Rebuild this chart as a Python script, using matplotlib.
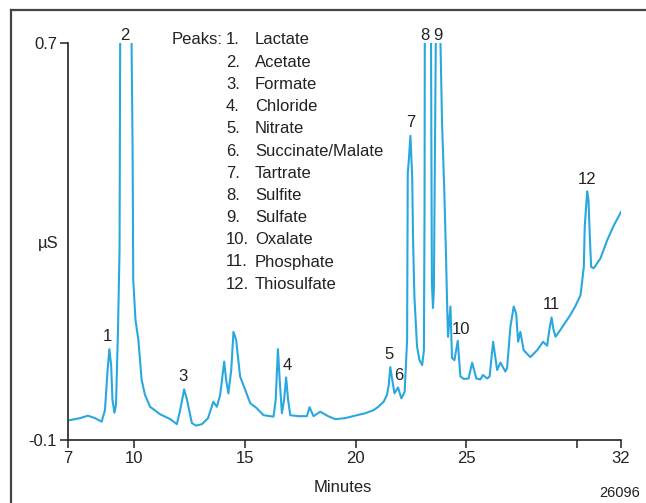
import matplotlib
matplotlib.use("Agg")
import matplotlib.pyplot as plt
from matplotlib.lines import Line2D

plt.rcParams['font.family'] = ['Liberation Sans Narrow', 'Liberation Sans', 'DejaVu Sans']

# chromatogram trace (minutes, uS)
minutes = [7.09, 7.54, 7.90, 8.22, 8.52, 8.67, 8.79, 8.87, 8.95, 9.01, 9.10, 9.17, 9.26, 9.33,
           9.36, 9.58, 9.87, 9.92, 9.95, 10.05, 10.18, 10.33, 10.48, 10.71, 11.16, 11.62,
           11.92, 12.07, 12.25, 12.38, 12.60, 12.79, 13.06, 13.33, 13.57, 13.73, 13.88, 14.06,
           14.15, 14.25, 14.38, 14.48, 14.60, 14.78, 15.01, 15.24, 15.51, 15.84, 16.29, 16.39,
           16.49, 16.57, 16.67, 16.77, 16.86, 16.95, 17.05, 17.41, 17.80, 17.92, 18.10, 18.40,
           18.76, 19.08, 19.53, 20.06, 20.44, 20.81, 21.03, 21.27, 21.42, 21.50, 21.57, 21.66,
           21.76, 21.92, 22.07, 22.22, 22.33, 22.36, 22.41, 22.48, 22.56, 22.60, 22.66, 22.78,
           22.89, 23.01, 23.09, 23.12, 23.13, 23.27, 23.41, 23.45, 23.50, 23.54, 23.63, 23.74,
           23.83, 23.91, 24.01, 24.09, 24.14, 24.18, 24.29, 24.36, 24.47, 24.62, 24.74, 24.89,
           25.11, 25.27, 25.46, 25.64, 25.76, 25.95, 26.06, 26.22, 26.40, 26.55, 26.77, 26.85,
           27.00, 27.15, 27.26, 27.35, 27.45, 27.60, 27.90, 28.21, 28.48, 28.66, 28.76, 28.86,
           28.95, 29.04, 29.26, 29.71, 29.94, 30.17, 30.32, 30.36, 30.47, 30.53, 30.59, 30.65,
           30.77, 31.07, 31.38, 31.68, 32.01]
signal = [-0.060, -0.056, -0.051, -0.056, -0.063, -0.040, 0.041, 0.083, 0.051, -0.019, -0.045,
          -0.029, 0.122, 0.283, 0.72, 1.20, 0.72, 0.485, 0.223, 0.142, 0.102, 0.021, -0.009,
          -0.033, -0.048, -0.058, -0.068, -0.040, 0.002, -0.019, -0.066, -0.071, -0.068, -0.056,
          -0.023, -0.033, -0.009, 0.058, 0.021, -0.006, 0.041, 0.118, 0.102, 0.028, 0.001,
          -0.026, -0.035, -0.050, -0.053, -0.019, 0.083, 0.021, -0.046, -0.019, 0.026, -0.019,
          -0.050, -0.052, -0.052, -0.034, -0.052, -0.043, -0.052, -0.058, -0.056, -0.050,
          -0.046, -0.040, -0.033, -0.023, -0.009, 0.011, 0.047, 0.021, -0.006, 0.006, -0.016,
          -0.003, 0.102, 0.438, 0.465, 0.513, 0.431, 0.303, 0.189, 0.088, 0.061, 0.051, 0.081,
          0.384, 0.72, 1.10, 0.72, 0.217, 0.166, 0.202, 0.72, 1.10, 0.72, 0.539, 0.404, 0.270,
          0.172, 0.108, 0.169, 0.065, 0.061, 0.100, 0.028, 0.023, 0.024, 0.056, 0.024, 0.022,
          0.031, 0.024, 0.028, 0.098, 0.041, 0.056, 0.038, 0.045, 0.128, 0.169, 0.155, 0.098,
          0.118, 0.081, 0.067, 0.081, 0.098, 0.090, 0.122, 0.147, 0.122, 0.108, 0.122, 0.152,
          0.170, 0.192, 0.249, 0.330, 0.401, 0.384, 0.310, 0.249, 0.246, 0.266, 0.303, 0.333,
          0.360]

# peak number labels (position of the label text)
peak_ids = ["1", "2", "3", "4", "5", "6", "7", "8", "9", "10", "11", "12"]
peak_x = [8.79, 9.58, 12.20, 16.91, 21.52, 21.93, 22.48, 23.15, 23.74, 24.78, 28.86, 30.48]
peak_y = [0.108, 0.716, 0.027, 0.051, 0.073, 0.029, 0.540, 0.716, 0.716, 0.122, 0.174, 0.424]

peak_names = ["Lactate", "Acetate", "Formate", "Chloride", "Nitrate", "Succinate/Malate",
              "Tartrate", "Sulfite", "Sulfate", "Oxalate", "Phosphate", "Thiosulfate"]

FS = 12
INK = "#222222"

W, H = 646, 503
fig = plt.figure(figsize=(W / 100, H / 100), dpi=100)
ax = fig.add_axes([68 / W, 1 - 440 / H, (621 - 68) / W, (440 - 43) / H])

ax.plot(minutes, signal, color="#29a8df", lw=1.5)
ax.set_xlim(7, 32)
ax.set_ylim(-0.1, 0.7)

for s in ["top", "right"]:
    ax.spines[s].set_visible(False)
for s in ["left", "bottom"]:
    ax.spines[s].set_color(INK)
    ax.spines[s].set_linewidth(1.2)

ax.set_xticks([7, 10, 15, 20, 25, 30, 32])
ax.set_xticklabels(["7", "10", "15", "20", "25", "", "32"])
ax.set_yticks([-0.1, 0.7])
ax.set_yticklabels(["-0.1", "0.7"])
ax.tick_params(direction="out", length=6, width=1.1, color=INK, labelsize=FS, pad=2,
               labelcolor=INK)

for lab, x, y in zip(peak_ids, peak_x, peak_y):
    ax.text(x, y, lab, ha="center", va="center", fontsize=FS, color=INK, clip_on=False)

# peak list
fig.text(172 / W, 1 - 40 / H, "Peaks:", ha="left", va="center", fontsize=FS, color=INK)
for i, name in enumerate(peak_names):
    yy = 1 - (40 + i * 22.2) / H
    fig.text(226 / W, yy, "%d." % (i + 1), ha="left", va="center", fontsize=FS, color=INK)
    fig.text(255 / W, yy, name, ha="left", va="center", fontsize=FS, color=INK)

fig.text(48 / W, 1 - 243 / H, "µS", ha="center", va="center", fontsize=FS, color=INK)
fig.text(343 / W, 1 - 487 / H, "Minutes", ha="center", va="center", fontsize=FS, color=INK)
fig.text(620 / W, 1 - 493 / H, "26096", ha="center", va="center", fontsize=10.5, color=INK)

# outer frame (top and left edges only visible)
fig.add_artist(Line2D([11 / W, 1], [1 - 10 / H, 1 - 10 / H], transform=fig.transFigure,
                      color="#444444", lw=1.6))
fig.add_artist(Line2D([11 / W, 11 / W], [0, 1 - 10 / H], transform=fig.transFigure,
                      color="#444444", lw=1.6))

fig.savefig("out.png", dpi=100)
